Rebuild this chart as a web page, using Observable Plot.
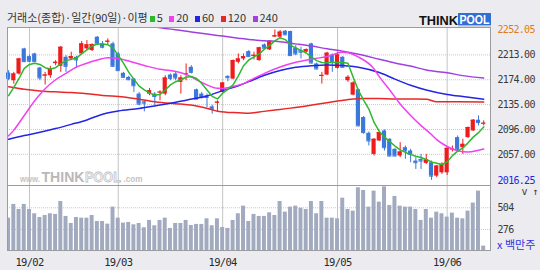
<!DOCTYPE html>
<html><head><meta charset="utf-8">
<script src="https://cdn.jsdelivr.net/npm/d3@7"></script>
<script src="https://cdn.jsdelivr.net/npm/@observablehq/plot@0.6"></script>
<style>
html,body{margin:0;padding:0;background:#ececf0;}
#chart{position:relative;width:540px;height:270px;background:#ececf0;overflow:hidden;}
#chart svg{position:absolute;left:0;}
#title{position:absolute;left:7px;top:10px;font:11px "Noto Sans CJK KR",sans-serif;line-height:14px;color:#333;white-space:nowrap;}
#title .sq{display:inline-block;width:5px;height:6.5px;margin:0 2px 0 0;}
#title .it{margin-right:6.5px;}
</style></head><body><div id="chart"><div id="title"></div></div>
<script>
// ---- data ----
const months = ["19/01","19/02","19/03","19/04","19/05","19/06"];
const tradingDays = [4,17,20,22,21,8];
const open = [
2184.6,2172.5,2183.0,2222.4,2210.3,2214.5,2192.5,2179.9,2180.4,2199.3,
2195.1,2209.3,2206.6,2209.3,2214.5,2222.4,2219.8,2240.8,2230.3,2232.9,
2230.3,2214.5,2184.1,2177.8,2175.1,2151.5,2139.4,2151.5,2151.5,2153.6,
2151.5,2181.4,2183.0,2169.9,2182.0,2193.5,2158.3,2151.5,2148.9,2131.5,
2137.3,2154.1,2179.3,2175.1,2201.4,2206.6,2218.2,2210.8,2204.0,2228.7,
2220.8,2241.3,2240.8,2250.2,2249.7,2223.5,2219.8,2217.2,2230.3,2198.8,
2179.3,2181.4,2212.9,2191.9,2209.3,2172.5,2149.9,2158.3,2114.7,2090.0,
2056.9,2077.9,2093.7,2080.6,2064.8,2054.3,2067.4,2062.2,2046.4,2049.1,
2042.8,2043.8,2022.8,2028.0,2028.0,2064.3,2083.2,2067.4,2083.2,2093.7,
2110.5,2104.7];
const high = [
2188.3,2185.6,2207.7,2223.5,2212.9,2215.6,2193.5,2185.6,2195.1,2204.0,
2226.1,2211.9,2217.2,2210.8,2234.0,2235.5,2230.3,2241.8,2234.0,2238.2,
2232.9,2217.2,2185.6,2179.3,2176.2,2154.1,2141.0,2160.4,2154.1,2156.7,
2180.4,2183.0,2185.6,2180.4,2198.8,2196.1,2159.4,2154.1,2151.5,2134.2,
2141.0,2169.9,2180.4,2205.1,2214.5,2214.5,2219.8,2217.2,2225.0,2230.3,
2235.5,2252.05,2251.3,2251.3,2250.2,2227.7,2225.0,2222.4,2231.3,2200.3,
2185.6,2217.2,2214.5,2217.2,2210.3,2180.4,2170.9,2159.4,2116.3,2092.1,
2081.6,2092.1,2095.3,2081.6,2065.9,2075.3,2070.1,2064.8,2051.7,2056.9,
2056.9,2046.4,2039.6,2043.8,2067.4,2070.1,2085.8,2080.6,2100.0,2111.6,
2117.3,2109.5];
const low = [
2172.5,2167.2,2181.4,2201.4,2201.4,2201.4,2172.5,2165.7,2176.2,2196.1,
2185.6,2185.6,2204.0,2191.9,2212.9,2219.8,2218.2,2227.7,2222.4,2228.7,
2193.5,2187.2,2176.2,2172.5,2154.1,2133.1,2123.6,2148.9,2133.1,2141.0,
2148.9,2172.5,2172.5,2151.5,2172.5,2183.0,2142.6,2143.6,2130.5,2120.0,
2123.6,2153.1,2170.9,2174.1,2198.8,2204.0,2209.3,2205.1,2203.0,2222.4,
2219.8,2240.3,2238.2,2243.4,2210.8,2211.9,2206.6,2216.1,2198.8,2189.8,
2167.2,2180.4,2185.6,2190.9,2192.5,2169.9,2148.9,2100.5,2088.5,2070.1,
2054.3,2076.9,2062.2,2053.3,2053.3,2051.7,2049.1,2043.8,2033.3,2033.3,
2041.2,2016.25,2020.2,2025.4,2023.8,2060.6,2062.2,2056.9,2082.1,2092.7,
2101.6,2101.6];
const close = [
2176.2,2183.0,2206.6,2202.4,2203.0,2202.4,2176.7,2181.4,2190.9,2201.4,
2225.0,2195.1,2210.3,2205.1,2230.3,2228.7,2229.2,2230.3,2225.0,2234.5,
2195.1,2188.3,2177.8,2174.1,2164.6,2135.7,2137.3,2156.7,2147.8,2154.6,
2176.7,2176.2,2176.7,2176.7,2183.5,2185.6,2143.6,2146.2,2146.2,2127.8,
2138.9,2168.8,2177.2,2204.0,2206.6,2210.3,2210.3,2212.4,2224.0,2223.5,
2234.5,2242.9,2248.7,2244.5,2211.9,2214.5,2217.2,2221.3,2200.3,2190.9,
2180.9,2215.6,2202.4,2212.9,2193.5,2177.8,2168.8,2101.6,2091.1,2077.9,
2080.6,2091.1,2067.4,2054.3,2054.3,2060.6,2062.2,2056.9,2043.8,2046.4,
2048.0,2022.8,2038.5,2041.2,2066.4,2065.3,2064.8,2072.7,2099.0,2110.5,
2106.8,2105.8];
const volume = [
395,539,486,539,486,441,402,423,441,434,
570,413,339,402,395,395,423,360,360,332,
511,395,343,350,325,339,294,371,315,371,
395,287,339,339,371,318,329,329,388,315,
388,297,287,371,441,521,360,434,413,413,
451,423,570,458,511,521,500,486,570,441,
570,395,395,388,605,486,469,714,686,511,
679,563,724,528,623,521,511,511,486,371,
486,395,458,441,406,448,395,388,469,553,
679,101];
// moving averages: [day index, value]
const ma5 = [
2149,2162,2176,2192,2198,2200,2198,2193,2191,2193,
2199,2204,2206,2208,2215,2221,2227,2230,2230,2229,
2224,2212,2200,2186,2175,2164,2158,2153,2150,2151,
2158,2166,2171,2174,2178,2179,2176,2168,2158,2148,
2144,2153,2159,2166,2180,2196,2205,2210,2214.5,2222,
2228,2235,2240,2237,2228,2224,2220,2216,2210,2204,
2201,2200.5,2201,2201,2201,2200,2178,2157,2142,2128,
2107,2093,2084,2077,2070,2064,2060,2057,2054,2052,
2049,2045,2043,2041,2045,2055,2062,2067,2075,2084,
2091,2100];
const ma20 = [[0,2086],[1,2095],[3,2118],[5,2141],[7,2160],[9,2174],[11,2184],[13,2194],[15,2200],[17,2205],[19,2208.5],[21,2207.5],[24,2201],[26,2196.5],[29,2190.5],[31,2188.5],[34,2182.5],[36,2174],[38,2166],[40,2160.5],[41,2160.4],[43,2163.3],[45,2168],[46,2172],[49,2184],[52,2194],[55,2201.4],[58,2206.3],[61,2210.5],[64,2217],[65,2216.5],[67,2209.7],[70,2191],[71,2179],[73,2158],[75,2136],[77,2118],[79,2102],[81,2088],[82,2080],[84,2069.3],[86,2062.5],[88,2060.6],[90,2063.5],[91,2065.5]];
const ma60 = [[0,2080.6],[3,2086.5],[6,2091.5],[9,2097.4],[12,2104],[15,2111],[18,2120],[21,2125],[25,2129],[28,2133],[31,2137],[34,2142],[38,2148.5],[41,2157],[44,2164.5],[46,2171],[49,2181],[52,2188.6],[55,2193.5],[58,2196],[61,2197.2],[64,2196.3],[67,2193.6],[71,2185.3],[74,2175],[77,2165.5],[80,2158],[84,2151],[87,2147.6],[91,2143.6]];
const ma120 = [[0,2163],[3,2159],[6,2156.5],[9,2155],[12,2154],[15,2152],[18,2149.4],[22,2147],[25,2143.5],[28,2139.5],[31,2137],[33,2135.8],[36,2133],[39,2127],[40,2124.5],[42,2122.8],[44,2122.3],[46,2121.5],[48,2123.5],[51,2126.5],[54,2129.5],[57,2133],[60,2136.8],[63,2140.5],[66,2143.8],[68,2144.6],[71,2144.6],[74,2143.7],[78,2143.7],[80,2143.5],[82,2139.4],[86,2139.4],[91,2139.2]];
const ma240 = [[27,2258],[30,2254.5],[32,2252.5],[35,2249],[38,2245.7],[41,2242.5],[44,2239.3],[46,2237.2],[49,2235.3],[52,2233.6],[55,2230.3],[58,2226.8],[61,2222.6],[64,2218.7],[67,2214],[71,2206.2],[74,2200.3],[77,2195.5],[80,2189.3],[84,2185],[87,2180.5],[91,2176.7]];
const priceTicks = [2057,2096,2135,2174,2213];
const priceMax = 2252.05, priceMin = 2016.25;
const volTicks = [276,504];
const maLabels = ["5","20","60","120","240"];
const maColors = ["#2eb82e","#f040f0","#2424e6","#e82828","#a040e0"];
const upColor = "#ee1c1c", downColor = "#3b78dc", volColor = "#a2aabf";

// ---- derived ----
const candles = open.map((o,i)=>({i,o,h:high[i],l:low[i],c:close[i],v:volume[i],up:close[i]>=o}));
const starts = []; {let s=0; for (const n of tradingDays){starts.push(s); s+=n;}}
const monthTicks = starts.slice(1);
const monthLabel = new Map(monthTicks.map((t,k)=>[t, months[k+1]]));
const toPts = arr => arr.map(([i,v])=>({i,v}));
const xDomain = [-0.21, 92.3];
const numFont = '"DejaVu Sans Mono","Liberation Mono",monospace';
const col = d => d.up ? upColor : downColor;
const hw = 0.4;

const price = Plot.plot({
  width: 540, height: 186,
  marginLeft: 7, marginRight: 50, marginTop: 27, marginBottom: 1,
  x: {domain: xDomain, axis: null},
  y: {domain: [2008.1, 2256.0], axis: null},
  style: {background: "transparent", letterSpacing: "-0.7px"},
  marks: [
    Plot.frame({fill: "white", stroke: "none"}),
    Plot.ruleY(priceTicks, {stroke: "#c8c8c8", strokeDasharray: "1,1"}),
    Plot.ruleX(monthTicks, {stroke: "#c4c4c4"}),
    Plot.ruleX(candles, {x: "i", y1: "l", y2: "h", stroke: col}),
    Plot.rect(candles, {x1: d=>d.i-hw, x2: d=>d.i+hw, y1: "o", y2: "c", fill: col}),
    Plot.ruleY(candles, {x1: d=>d.i-hw, x2: d=>d.i+hw, y: "c", stroke: col}),
    Plot.line(toPts(ma120), {x:"i", y:"v", stroke: maColors[3], curve:"monotone-x", clip:true}),
    Plot.line(toPts(ma60), {x:"i", y:"v", stroke: maColors[2], curve:"monotone-x", clip:true}),
    Plot.line(toPts(ma240), {x:"i", y:"v", stroke: maColors[4], curve:"monotone-x", clip:true}),
    Plot.line(toPts(ma20), {x:"i", y:"v", stroke: maColors[1], curve:"monotone-x", clip:true}),
    Plot.line(ma5.map((v,i)=>({i,v})), {x:"i", y:"v", stroke: maColors[0], clip:true}),
    Plot.frame({stroke: "#9c9c9c"}),
    Plot.axisY(priceTicks, {anchor:"right", tickSize:0, tickPadding:7, tickFormat:d=>d.toFixed(2), fontFamily:numFont, fontSize:10, fill:"#3a3a3a"}),
    Plot.axisY([priceMax], {anchor:"right", tickSize:0, tickPadding:7, tickFormat:d=>d.toFixed(2), fontFamily:numFont, fontSize:10, fill:"#e07a1c"}),
    Plot.axisY([priceMin], {anchor:"right", tickSize:0, tickPadding:7, tickFormat:d=>d.toFixed(2), fontFamily:numFont, fontSize:10, fill:"#2424e0"})
  ]
});
price.style.top = "0px";

const vol = Plot.plot({
  width: 540, height: 86,
  marginLeft: 7, marginRight: 50, marginTop: 1, marginBottom: 20,
  x: {domain: xDomain, axis: null},
  y: {domain: [55, 738], axis: null},
  style: {background: "transparent", letterSpacing: "-0.7px"},
  marks: [
    Plot.frame({fill: "white", stroke: "none"}),
    Plot.ruleY(volTicks, {stroke: "#c8c8c8", strokeDasharray: "1,1"}),
    Plot.ruleX(monthTicks, {stroke: "#c4c4c4"}),
    Plot.rectY(candles, {x1: d=>d.i-0.38, x2: d=>d.i+0.38, y1: d=>0, y2: "v", fill: volColor, clip: true}),
    Plot.frame({stroke: "#9c9c9c"}),
    Plot.axisY(volTicks, {anchor:"right", tickSize:0, tickPadding:7, fontFamily:numFont, fontSize:10, fill:"#3a3a3a"}),
    Plot.axisX(monthTicks, {anchor:"bottom", tickSize:0, tickPadding:8, tickFormat:d=>monthLabel.get(d), fontFamily:numFont, fontSize:10.5, fill:"#2a2a2a"})
  ]
});
vol.style.top = "184px";

const chart = document.getElementById("chart");
chart.appendChild(price);
chart.appendChild(vol);

// title + legend
const title = document.getElementById("title");
title.innerHTML = '<span style="margin-right:2px">거래소(종합)·일간(90일)·이평</span>' +
  maLabels.map((l,k)=>`<span class="sq" style="background:${maColors[k]}"></span><span class="it">${l}</span>`).join("");
chart.appendChild(title);

// overlay: logo, watermark, unit
const ns = "http://www.w3.org/2000/svg";
const ov = document.createElementNS(ns, "svg");
ov.setAttribute("width", 540); ov.setAttribute("height", 270);
ov.style.top = "0px"; ov.style.pointerEvents = "none";
ov.innerHTML = `
<text x="419" y="24.5" font-family="Liberation Sans,Arial" font-weight="bold" font-size="12.5" textLength="39" lengthAdjust="spacingAndGlyphs" fill="#111">THINK</text>
<rect x="458" y="13" width="33" height="12" fill="#2f6fd6"/>
<rect x="458" y="25" width="33" height="1.5" fill="#b8b8c4"/>
<text x="459.5" y="24" font-family="Liberation Sans,Arial" font-weight="bold" font-size="12" textLength="30" lengthAdjust="spacingAndGlyphs" fill="#fff">POOL</text>
<g fill="#c4c4c4" font-family="Liberation Sans,Arial" font-weight="bold">
<text x="20" y="181.5" font-size="9" textLength="20" lengthAdjust="spacingAndGlyphs">www.</text>
<text x="41.5" y="181.7" font-size="14" textLength="43" lengthAdjust="spacingAndGlyphs" fill="#b8b8b8">THINK</text>
<text x="85" y="181.7" font-size="14" textLength="36" lengthAdjust="spacingAndGlyphs" fill="#f4f4f4" stroke="#c4c4c4" stroke-width="0.8">POOL</text>
<text x="123.5" y="181.5" font-size="9" textLength="19" lengthAdjust="spacingAndGlyphs">.com</text>
</g>
<text x="497" y="248.5" font-family="Noto Sans CJK KR,sans-serif" font-size="11" fill="#3030dc">x 백만주</text>`;
chart.appendChild(ov);
</script></body></html>
